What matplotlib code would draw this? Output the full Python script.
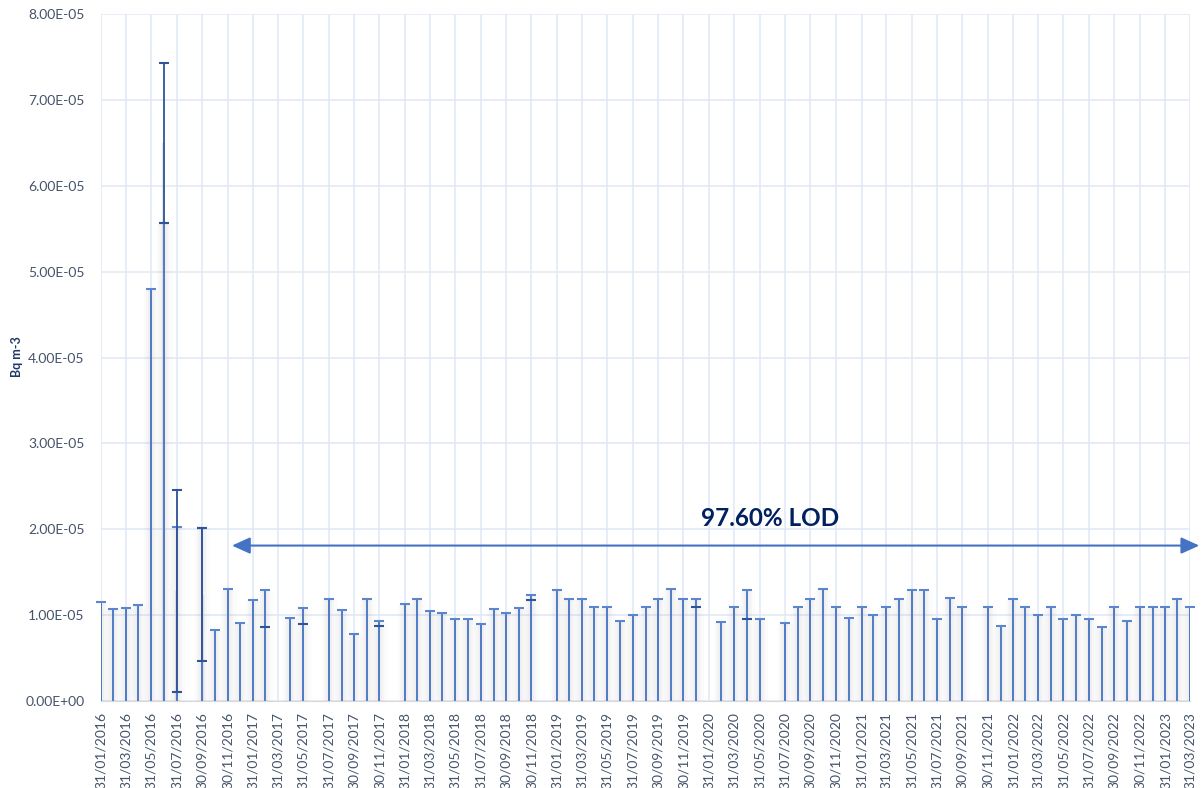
import numpy as np, pandas as pd
import matplotlib; matplotlib.use("Agg")
import matplotlib.pyplot as plt
import matplotlib.dates as mdates
from matplotlib.ticker import FuncFormatter
from matplotlib.transforms import blended_transform_factory

plt.rcParams["font.family"] = ["Lato", "DejaVu Sans"]

# monthly samples, values in units of 1E-05 Bq m-3 (nan = no sample that month)
months = pd.date_range("2016-01-31", "2023-03-31", freq="ME")
lod = [1.15, 1.07, 1.08, 1.12, 4.80, 5.57, 2.03, np.nan, 2.02, 0.83, 1.30, 0.91,
       1.18, 1.29, np.nan, 0.97, 1.08, np.nan, 1.19, 1.06, 0.78, 1.19, 0.93, np.nan,
       1.13, 1.19, 1.05, 1.03, 0.96, 0.96, 0.90, 1.07, 1.03, 1.08, 1.24, np.nan,
       1.29, 1.19, 1.19, 1.09, 1.09, 0.93, 1.00, 1.10, 1.19, 1.30, 1.19, 1.19,
       np.nan, 0.92, 1.09, 1.29, 0.95, np.nan, 0.91, 1.09, 1.19, 1.30, 1.09, 0.97,
       1.09, 1.00, 1.09, 1.19, 1.29, 1.29, 0.95, 1.20, 1.09, np.nan, 1.09, 0.87,
       1.19, 1.09, 1.00, 1.09, 0.96, 1.00, 0.95, 0.86, 1.09, 0.93, 1.09, 1.10,
       1.09, 1.19, 1.09]
# second filter in the same month
second_dates = ["2017-02-28", "2017-05-31", "2017-11-30", "2018-11-30",
                "2019-12-31", "2020-04-30"]
second_lod = [0.86, 0.90, 0.87, 1.18, 1.09, 0.95]
# samples above the detection limit
det_dates = ["2016-06-30", "2016-07-31", "2016-09-30"]
det_value = [6.50, 1.28, 1.24]
det_unc = [0.93, 1.18, 0.78]
SCALE = 1e-5
lod_share = "97.60% LOD"

BLUE = "#4472C4"; CAP = "#5A86D0"; DARK = "#2F5597"; GRID = "#E0E8F5"; TXT = "#44546A"

fig = plt.figure(figsize=(12.02, 7.88), dpi=100)
ax = fig.add_axes([101/1202, 1-701/788, 1089/1202, 687/788])

x = mdates.date2num(months)
v = np.array(lod) * SCALE
ok = ~np.isnan(v)
x2 = mdates.date2num(pd.to_datetime(second_dates))
v2 = np.array(second_lod) * SCALE
xd = mdates.date2num(pd.to_datetime(det_dates))
vd = np.array(det_value) * SCALE
ud = np.array(det_unc) * SCALE

# soft shadow behind every whisker
for lw, a in [(11, 0.03), (7, 0.045), (4, 0.05)]:
    ax.vlines(x[ok], 0, v[ok], color="#808080", lw=lw, alpha=a, zorder=2)
ax.bar(xd, vd, width=7, color="#cfcfcf", alpha=0.55, zorder=2)

# detection-limit whiskers: from zero up to the LOD, cap on top
ax.vlines(x[ok], 0, v[ok], color=BLUE, lw=1.3, zorder=3)
ax.plot(x[ok], v[ok], ls="none", marker="_", ms=7, mew=1.5, color=CAP, zorder=4, clip_on=False)
ax.plot(x2, v2, ls="none", marker="_", ms=7, mew=1.5, color=DARK, zorder=4)

# detected activity with its uncertainty
ax.errorbar(xd, vd, yerr=ud, fmt="none", ecolor=DARK, elinewidth=1.3,
            capsize=3.5, capthick=1.5, zorder=5)

ax.set_xlim(x[0], x[-1])
ax.set_ylim(0, 8e-5)
ax.set_yticks(np.arange(0, 8.01e-5, 1e-5))
ax.yaxis.set_major_formatter(FuncFormatter(lambda y, _: f"{y:.2E}"))
ax.set_xticks(x[::2])
ax.set_xticklabels([d.strftime("%d/%m/%Y") for d in months[::2]], rotation=90)
ax.tick_params(axis="both", length=0, labelsize=10, labelcolor=TXT)
ax.tick_params(axis="x", pad=8)
ax.tick_params(axis="y", pad=12)
ax.grid(True, color=GRID, lw=1.1, zorder=0)
ax.set_axisbelow(True)
for s in ("top", "right", "left"):
    ax.spines[s].set_visible(False)
ax.spines["bottom"].set_color("#D9D9D9")

fig.text(17/1202, 1-357/788, "Bq m-3", rotation=90, ha="center", va="center",
         fontsize=9, fontweight="bold", color="#1F3864")

ax.annotate("", xy=(1.0085, 1.81e-5), xytext=(0.1203, 1.81e-5),
            xycoords=("axes fraction", "data"), annotation_clip=False,
            arrowprops=dict(arrowstyle="<|-|>,head_length=1.1,head_width=0.5",
                            color=BLUE, lw=1.5, shrinkA=0, shrinkB=0))
ax.text(0.614, 2.13e-5, lod_share,
        transform=blended_transform_factory(ax.transAxes, ax.transData),
        ha="center", va="center", fontsize=17.5, fontweight="bold", color="#002060")

fig.savefig("out.png", dpi=100)
